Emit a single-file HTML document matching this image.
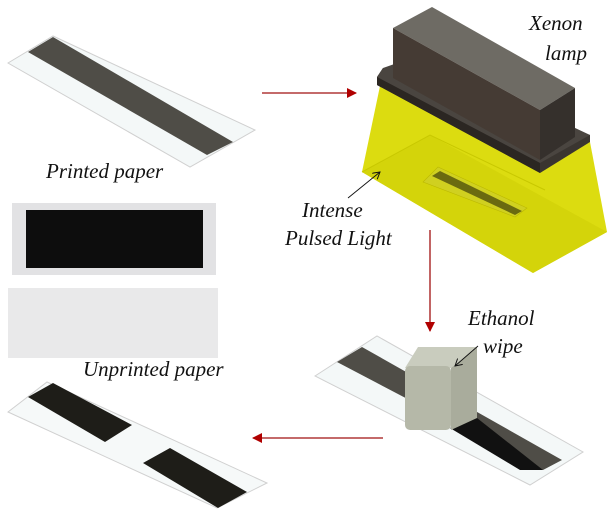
<!DOCTYPE html>
<html><head><meta charset="utf-8"><style>
html,body{margin:0;padding:0;background:#fff;}
svg{display:block;}
text{font-family:"Liberation Serif",serif;font-style:italic;fill:#111;}
</style></head><body>
<svg width="611" height="526" viewBox="0 0 611 526" xmlns="http://www.w3.org/2000/svg">
<defs>
<marker id="ah" markerWidth="10" markerHeight="10" refX="9" refY="5" orient="auto" markerUnits="userSpaceOnUse">
<path d="M0,0 L10,5 L0,10 z" fill="#b00000"/></marker>
<marker id="sa" markerWidth="8" markerHeight="8" refX="7" refY="4" orient="auto" markerUnits="userSpaceOnUse">
<path d="M0,0 L7,4 L0,8" fill="none" stroke="#111" stroke-width="1"/></marker>
</defs>
<!-- top-left paper -->
<polygon points="8,63 53,36 255,130 190,167" fill="#f4f8f8" stroke="#d0d0d0" stroke-width="1"/>
<polygon points="28,52 53,37 233,142 207,155" fill="#4f4d47"/>
<text x="46" y="178" font-size="21">Printed paper</text>
<!-- photos -->
<rect x="12" y="203" width="204" height="72" fill="#e2e2e4"/>
<rect x="26" y="210" width="177" height="58" fill="#0d0d0d"/>
<rect x="8" y="288" width="210" height="70" fill="#e9e9ea"/>
<text x="83" y="376" font-size="21">Unprinted paper</text>
<!-- bottom-left paper -->
<polygon points="8,412 47,382 267,483 217,508" fill="#f6f9f9" stroke="#d0d0d0" stroke-width="1"/>
<polygon points="28,397 53,383 132,425 105,442" fill="#1e1d18"/>
<polygon points="143,463 170,448 247,492 218,508" fill="#1e1d18"/>
<!-- arrows -->
<line x1="262" y1="93" x2="356" y2="93" stroke="#a01010" stroke-width="1.3" marker-end="url(#ah)"/>
<line x1="430" y1="230" x2="430" y2="331" stroke="#a01010" stroke-width="1.3" marker-end="url(#ah)"/>
<line x1="383" y1="438" x2="253" y2="438" stroke="#a01010" stroke-width="1.3" marker-end="url(#ah)"/>
<!-- lamp: yellow -->
<polygon points="380,86 590,142 607,232 533,273 362,172" fill="#dcdc10"/>
<polygon points="362,172 430,135 607,232 533,273" fill="#d4d40a"/>
<polyline points="362,172 430,135 545,190" fill="none" stroke="#c8c800" stroke-width="1"/>
<polygon points="423,182 438,167 527,208 515,217" fill="#d0d020" stroke="#bbb800" stroke-width="0.6"/>
<polygon points="432,176 440,171 522,211 515,215" fill="#6a6a10"/>
<!-- plate -->
<polygon points="377,77 383,68 590,135 590,142 540,173 377,85" fill="#3a3530"/>
<polygon points="383,68 420,55 590,135 540,163 377,77" fill="#4a4540"/>
<polygon points="377,77 540,163 540,173 377,85" fill="#2b2622"/>
<!-- block -->
<polygon points="393,28 432,7 575,88 540,110" fill="#6e6b64"/>
<polygon points="393,28 540,110 540,160 393,78" fill="#453b34"/>
<polygon points="540,110 575,88 575,137 540,160" fill="#35302c"/>
<text x="529" y="30" font-size="21">Xenon</text>
<text x="545" y="60" font-size="21">lamp</text>
<text x="302" y="217" font-size="21">Intense</text>
<text x="285" y="245" font-size="21">Pulsed Light</text>
<line x1="348" y1="198" x2="380" y2="172" stroke="#111" stroke-width="0.9" marker-end="url(#sa)"/>
<!-- bottom-right paper -->
<polygon points="315,376 377,336 583,452 530,485" fill="#f4f8f8" stroke="#d0d0d0" stroke-width="1"/>
<polygon points="337,362 362,347 562,460 543,470" fill="#4f4d47"/>
<polygon points="450,428 477,418 543,470 520,470" fill="#111"/>
<!-- cube -->
<polygon points="405,368 418,347 477,347 451,368" fill="#c9ccbe"/>
<polygon points="451,368 477,347 477,418 451,430" fill="#a9ac9c"/>
<rect x="405" y="366" width="46" height="64" rx="5" fill="#b5b8a8"/>
<text x="468" y="325" font-size="21">Ethanol</text>
<text x="483" y="353" font-size="21">wipe</text>
<line x1="478" y1="346" x2="455" y2="366" stroke="#111" stroke-width="0.9" marker-end="url(#sa)"/>
</svg>
</body></html>
